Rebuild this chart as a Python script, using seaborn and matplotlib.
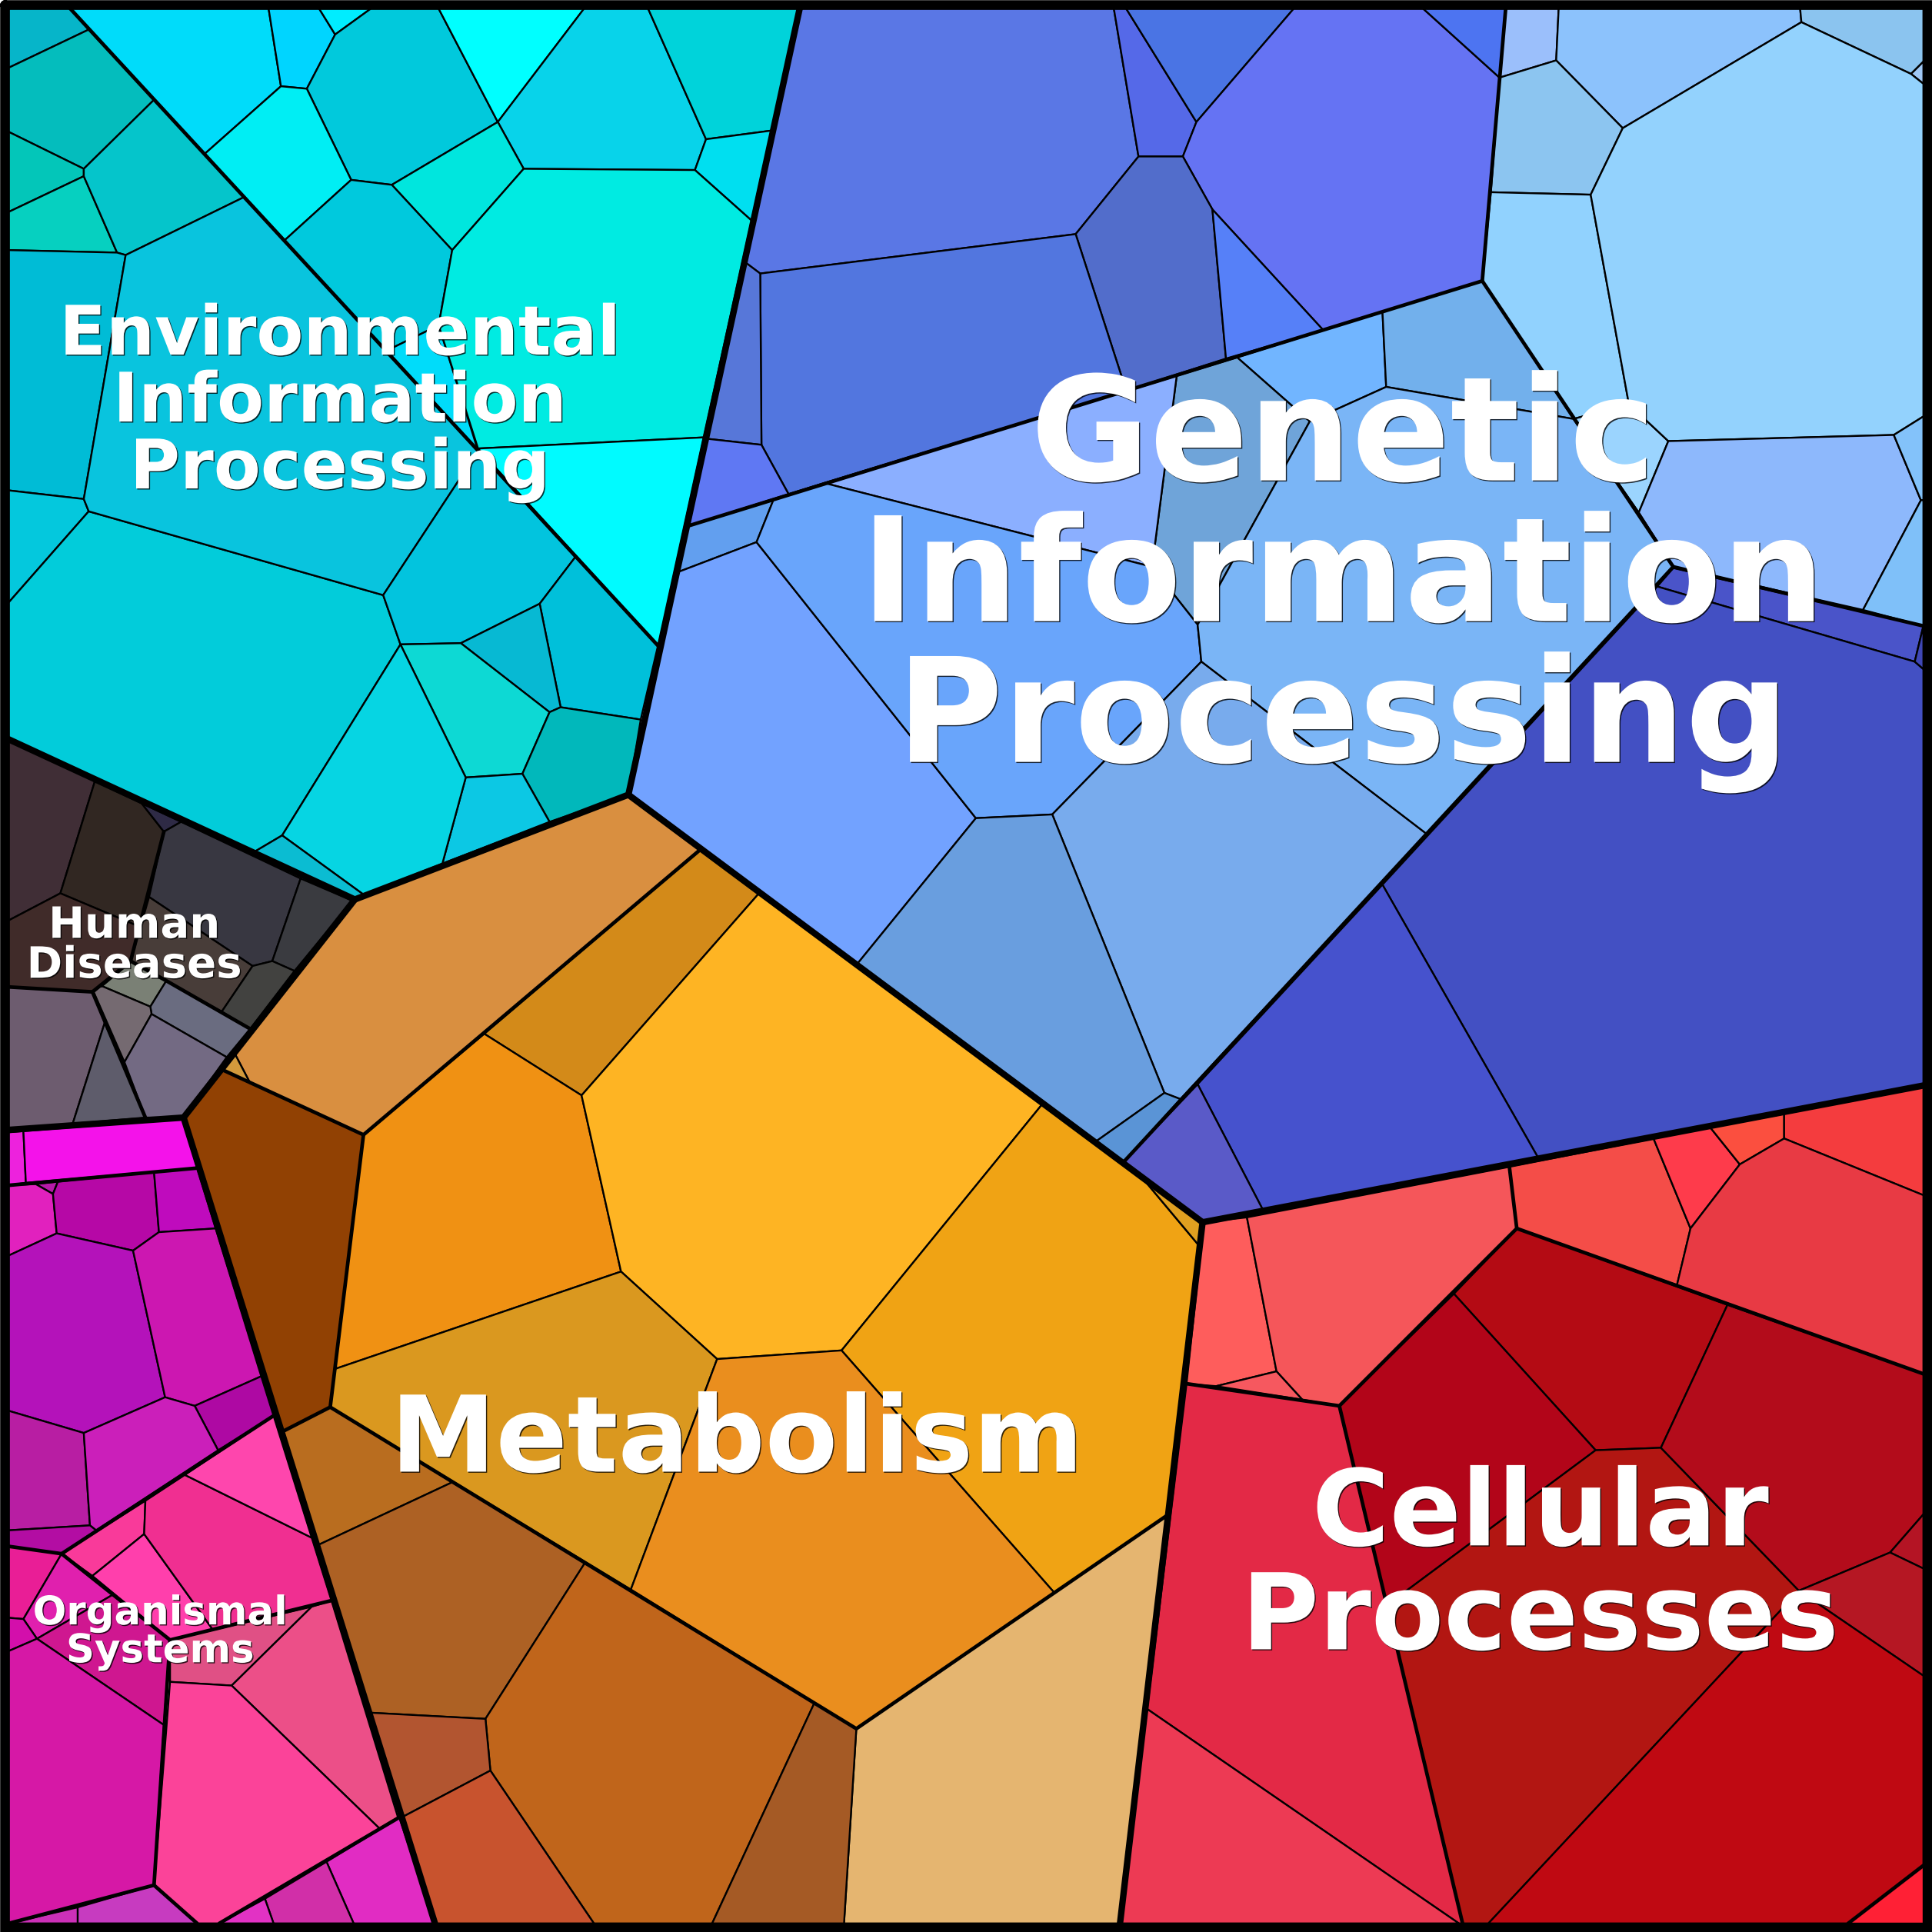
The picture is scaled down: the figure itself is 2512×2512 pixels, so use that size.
"""
Voronoi treemap of KEGG style pathway categories.
Cell outlines were read off the picture, in a 1568 x 1568 pixel space.
"""

import matplotlib
matplotlib.use('Agg')
import matplotlib.pyplot as plt
import matplotlib.patheffects as pe
import numpy as np
import pandas as pd
import seaborn as sns

# Environmental Information Processing
env_cells = [
    [(7, 7), (57, 7), (72, 24), (7, 55)],
    [(7, 55), (72, 24), (125, 81), (68, 137), (7, 107)],
    [(7, 107), (68, 137), (68, 143), (7, 172)],
    [(7, 172), (68, 143), (95, 205), (7, 203)],
    [(68, 137), (125, 81), (198, 160), (102, 207), (95, 205), (68, 143)],
    [(7, 203), (95, 205), (102, 207), (68, 405), (7, 398)],
    [(7, 398), (68, 405), (72, 415), (7, 489)],
    [(7, 489), (72, 415), (311, 483), (325, 523), (229, 678), (207, 691), (7, 600)],
    [(102, 207), (198, 160), (388, 366), (311, 483), (72, 415), (68, 405)],
    [(388, 366), (467, 452), (438, 490), (374, 522), (325, 523), (311, 483)],
    [(467, 452), (534, 524), (520, 584), (455, 574), (438, 490)],
    [(374, 522), (438, 490), (455, 574), (446, 578)],
    [(325, 523), (374, 522), (446, 578), (424, 628), (378, 631)],
    [(446, 578), (455, 574), (520, 584), (510, 645), (446, 667), (424, 628)],
    [(378, 631), (424, 628), (446, 667), (359, 701)],
    [(325, 523), (378, 631), (359, 701), (295, 726), (229, 678)],
    [(207, 691), (229, 678), (295, 726), (288, 730)],
    [(57, 7), (218, 7), (228, 70), (166, 125)],
    [(218, 7), (259, 7), (272, 28), (249, 72), (228, 70)],
    [(259, 7), (301, 7), (272, 28)],
    [(301, 7), (356, 7), (404, 99), (318, 150), (285, 146), (249, 72), (272, 28)],
    [(356, 7), (474, 7), (404, 99)],
    [(474, 7), (526, 7), (573, 113), (564, 138), (425, 137), (404, 99)],
    [(526, 7), (649, 7), (626, 106), (573, 113)],
    [(573, 113), (626, 106), (610, 179), (564, 138)],
    [(166, 125), (228, 70), (249, 72), (285, 146), (231, 195)],
    [(404, 99), (425, 137), (367, 203), (318, 150)],
    [(231, 195), (285, 146), (318, 150), (367, 203), (356, 264), (313, 285)],
    [(313, 285), (356, 264), (388, 366)],
    [(425, 137), (564, 138), (610, 179), (571, 355), (388, 364), (356, 264), (367, 203)],
    [(388, 364), (571, 355), (534, 524)],
]
env_colors = [
    '#06b5c9', '#04bdbd', '#03c6b9', '#06d0c0', '#05c5cb', '#00bcd6', '#04c8dd', '#02ccda',
    '#09c4de', '#02c4de', '#00c0da', '#07b9d3', '#0dd9d4', '#01b8bb', '#0cc8e4', '#06d5e3',
    '#0bbcd2', '#00dcfa', '#00d5ff', '#00edff', '#01c9dc', '#00ffff', '#08d3ea', '#00d3da',
    '#00dff0', '#00eef4', '#00e6de', '#00c9dd', '#00dcfa', '#00ebe2', '#00fbff',
]

# Human Diseases
human_cells = [
    [(7, 600), (77, 634), (49, 725), (7, 747)],
    [(77, 634), (115, 652), (133, 675), (113, 752), (49, 725)],
    [(115, 652), (147, 667), (133, 675)],
    [(7, 747), (49, 725), (113, 752), (106, 780), (75, 805), (7, 801)],
    [(133, 675), (147, 667), (244, 713), (221, 780), (205, 784), (121, 728)],
    [(244, 713), (286, 731), (239, 788), (221, 780)],
    [(121, 728), (205, 784), (180, 821), (135, 796), (106, 780)],
    [(82, 800), (106, 780), (135, 796), (122, 817)],
    [(205, 784), (221, 780), (239, 788), (203, 835), (180, 821)],
    [(135, 796), (203, 835), (184, 858), (123, 823), (122, 817)],
    [(76, 805), (82, 800), (122, 817), (123, 823), (101, 862)],
    [(123, 823), (184, 858), (149, 907), (118, 907), (101, 862)],
    [(7, 801), (75, 805), (85, 830), (59, 912), (7, 917)],
    [(85, 830), (118, 907), (59, 912)],
]
human_colors = [
    '#402e36', '#312722', '#2e2a45', '#402b29', '#383741', '#3a3b40', '#483d39',
    '#7a8075', '#424240', '#6a6c80', '#756a71', '#736a83', '#6d5c6f', '#5e5c6b',
]

# Organismal Systems
org_cells = [
    [(7, 919), (19, 918), (21, 960), (7, 962)],
    [(19, 918), (149, 908), (160, 948), (21, 960)],
    [(29, 961), (47, 959), (43, 969)],
    [(7, 962), (29, 961), (43, 969), (46, 1001), (7, 1019)],
    [(47, 959), (125, 951), (129, 1000), (108, 1015), (46, 1001), (43, 969)],
    [(125, 951), (160, 948), (175, 997), (129, 1000)],
    [(7, 1019), (46, 1001), (108, 1015), (134, 1134), (68, 1163), (7, 1145)],
    [(108, 1015), (129, 1000), (175, 997), (212, 1117), (158, 1141), (134, 1134)],
    [(158, 1141), (212, 1117), (222, 1149), (177, 1177)],
    [(7, 1145), (68, 1163), (73, 1238), (7, 1242)],
    [(68, 1163), (134, 1134), (158, 1141), (177, 1177), (78, 1242), (73, 1238)],
    [(7, 1242), (73, 1238), (78, 1242), (50, 1261), (7, 1255)],
    [(50, 1261), (118, 1218), (117, 1245), (75, 1279)],
    [(117, 1245), (173, 1323), (138, 1331), (75, 1279)],
    [(118, 1218), (150, 1197), (253, 1248), (269, 1299), (173, 1323), (117, 1245)],
    [(150, 1197), (222, 1149), (253, 1248)],
    [(7, 1255), (50, 1261), (19, 1314), (7, 1313)],
    [(50, 1261), (92, 1294), (30, 1330), (19, 1314)],
    [(7, 1313), (19, 1314), (30, 1330), (7, 1340)],
    [(30, 1330), (92, 1294), (138, 1331), (133, 1400)],
    [(7, 1340), (30, 1330), (133, 1400), (125, 1530), (7, 1561)],
    [(138, 1331), (253, 1304), (188, 1368), (138, 1365)],
    [(253, 1304), (269, 1299), (323, 1475), (308, 1484), (188, 1368)],
    [(138, 1365), (188, 1368), (308, 1484), (178, 1561), (160, 1561), (125, 1530)],
    [(63, 1548), (125, 1530), (160, 1561), (63, 1561)],
    [(7, 1561), (63, 1548), (63, 1561)],
    [(265, 1511), (324, 1475), (353, 1561), (287, 1561)],
    [(215, 1541), (265, 1511), (287, 1561), (222, 1561)],
    [(178, 1561), (215, 1541), (222, 1561)],
]
org_colors = [
    '#ed22dd', '#f412ea', '#b61ba8', '#e121be', '#b608a6', '#bf0bbd', '#b412ba', '#cc17b1',
    '#ae09a3', '#b81ea3', '#cb1fba', '#b30da3', '#f93a9a', '#ff3fac', '#f02f91', '#fe46ad',
    '#e91e96', '#e020ae', '#d30fab', '#cf1790', '#d618a6', '#e05085', '#ec4f88', '#fb4399',
    '#c73bc0', '#cc30b8', '#e12cc3', '#d12fa8', '#e232c4',
]

# Metabolism
met_cells = [
    [(180, 868), (295, 921), (268, 1142), (229, 1162), (149, 907)],
    [(288, 730), (510, 645), (569, 689), (295, 921), (203, 879), (191, 856)],
    [(191, 856), (203, 879), (180, 868)],
    [(569, 689), (616, 725), (472, 889), (393, 839)],
    [(295, 921), (393, 839), (472, 889), (504, 1032), (272, 1111)],
    [(616, 725), (846, 896), (683, 1096), (582, 1103), (504, 1032), (472, 889)],
    [(846, 896), (928, 957), (974, 1012), (947, 1230), (856, 1293), (683, 1096)],
    [(928, 957), (976, 992), (974, 1012)],
    [(272, 1111), (504, 1032), (582, 1103), (512, 1290), (268, 1142)],
    [(582, 1103), (683, 1096), (856, 1293), (695, 1403), (512, 1290)],
    [(695, 1403), (947, 1230), (909, 1561), (685, 1561)],
    [(229, 1162), (268, 1142), (367, 1203), (258, 1254)],
    [(258, 1254), (367, 1203), (475, 1268), (394, 1395), (300, 1390)],
    [(475, 1268), (661, 1382), (578, 1561), (482, 1561), (398, 1437), (394, 1395)],
    [(661, 1382), (695, 1403), (685, 1561), (578, 1561)],
    [(300, 1390), (394, 1395), (398, 1437), (326, 1475)],
    [(326, 1475), (398, 1437), (482, 1561), (353, 1561)],
]
met_colors = [
    '#914103', '#d98f40', '#d39a3c', '#d38a19', '#f09113', '#feb423', '#f0a314', '#e0a020',
    '#da981f', '#ea8e1e', '#e5b570', '#b96d1f', '#ad6124', '#c0651b', '#a55a25', '#b25530',
    '#c8532e',
]

# Genetic Information Processing
gen_cells = [
    [(649, 7), (904, 7), (924, 127), (873, 190), (617, 222), (605, 213)],
    [(904, 7), (914, 7), (971, 99), (960, 127), (924, 127)],
    [(914, 7), (1050, 7), (971, 99)],
    [(1050, 7), (1155, 7), (1217, 63), (1203, 228), (1074, 268), (984, 170), (960, 127), (971, 99)],
    [(1155, 7), (1222, 7), (1217, 63)],
    [(873, 190), (924, 127), (960, 127), (984, 170), (995, 291), (914, 317)],
    [(984, 170), (1074, 268), (995, 291)],
    [(617, 222), (873, 190), (914, 317), (640, 401), (618, 361)],
    [(605, 213), (617, 222), (618, 361), (573, 356)],
    [(573, 356), (618, 361), (640, 401), (558, 427)],
    [(1222, 7), (1265, 7), (1263, 49), (1217, 63)],
    [(1265, 7), (1461, 7), (1462, 18), (1317, 104), (1263, 49)],
    [(1461, 7), (1561, 7), (1561, 50), (1551, 60), (1462, 18)],
    [(1561, 50), (1551, 60), (1561, 68)],
    [(1217, 63), (1263, 49), (1317, 104), (1291, 158), (1210, 156)],
    [(1210, 156), (1291, 158), (1322, 328), (1277, 340), (1203, 228)],
    [(1277, 340), (1322, 328), (1354, 358), (1330, 416)],
    [(1291, 158), (1317, 104), (1462, 18), (1551, 60), (1561, 68), (1561, 338), (1537, 353), (1354, 358), (1322, 328)],
    [(1354, 358), (1537, 353), (1559, 406), (1512, 495), (1358, 460), (1330, 416)],
    [(1537, 353), (1561, 338), (1561, 406), (1559, 406)],
    [(1559, 406), (1561, 406), (1561, 508), (1512, 495)],
    [(1004, 290), (1122, 253), (1125, 314), (1063, 342)],
    [(1122, 253), (1203, 228), (1277, 340), (1125, 314)],
    [(955, 305), (1004, 290), (1063, 342), (972, 507), (935, 460)],
    [(669, 392), (955, 305), (935, 460)],
    [(558, 427), (628, 405), (614, 440), (551, 464)],
    [(551, 464), (614, 440), (792, 664), (696, 782), (510, 645)],
    [(628, 405), (669, 392), (935, 460), (972, 507), (975, 537), (854, 661), (792, 664), (614, 440)],
    [(1063, 342), (1125, 314), (1277, 340), (1330, 416), (1358, 460), (1158, 677), (975, 537), (972, 507)],
    [(975, 537), (1158, 677), (958, 892), (945, 887), (854, 661)],
    [(792, 664), (854, 661), (945, 887), (890, 926), (696, 782)],
    [(890, 926), (945, 887), (958, 892), (912, 943)],
    [(1358, 461), (1561, 508), (1554, 537), (1345, 476)],
    [(1345, 476), (1554, 537), (1561, 543), (1561, 881), (1248, 939), (1122, 718)],
    [(1561, 508), (1561, 543), (1554, 537)],
    [(1122, 718), (1248, 939), (1025, 982), (972, 880)],
    [(972, 880), (1025, 982), (976, 992), (912, 943)],
]
gen_colors = [
    '#5a77e5', '#5569e8', '#4a74e4', '#6573f3', '#4d74f1', '#526dcb', '#5680f8', '#5276df',
    '#5777d9', '#5f78f3', '#9bbffb', '#8cc2fc', '#8bc4ef', '#a0c8f5', '#8cc5f0', '#91d2fe',
    '#9bd4fe', '#93d2fd', '#8db8fc', '#83c2fa', '#7fc0f9', '#71b5ff', '#72b0ec', '#6fa4d9',
    '#8bafff', '#629fef', '#72a2ff', '#69a5fb', '#7ab5f6', '#78abed', '#699edf', '#5a94d6',
    '#4a54c9', '#4350c3', '#3f47b5', '#4652cd', '#5a5ac8',
]

# Cellular Processes
cell_cells = [
    [(977, 992), (1012, 988), (1036, 1113), (987, 1125), (963, 1123)],
    [(1012, 988), (1225, 947), (1231, 997), (1087, 1141), (1057, 1136), (1036, 1113)],
    [(987, 1125), (1036, 1113), (1057, 1136)],
    [(1225, 947), (1342, 924), (1372, 997), (1361, 1043), (1231, 997)],
    [(1342, 924), (1388, 915), (1412, 945), (1372, 997)],
    [(1388, 915), (1448, 904), (1448, 924), (1412, 945)],
    [(1448, 904), (1561, 881), (1561, 970), (1448, 924)],
    [(1412, 945), (1448, 924), (1561, 970), (1561, 1115), (1361, 1043), (1372, 997)],
    [(1231, 997), (1402, 1059), (1348, 1175), (1295, 1177), (1180, 1050)],
    [(1087, 1141), (1180, 1050), (1295, 1177), (1124, 1304)],
    [(1295, 1177), (1348, 1175), (1460, 1291), (1208, 1561), (1187, 1561), (1124, 1304)],
    [(1402, 1059), (1561, 1115), (1561, 1229), (1534, 1260), (1460, 1291), (1348, 1175)],
    [(1561, 1229), (1561, 1273), (1534, 1260)],
    [(1534, 1260), (1561, 1273), (1561, 1360), (1460, 1291)],
    [(1460, 1291), (1561, 1360), (1561, 1514), (1500, 1561), (1208, 1561)],
    [(1561, 1514), (1561, 1561), (1500, 1561)],
    [(963, 1123), (1087, 1141), (1187, 1561), (1184, 1561), (931, 1387)],
    [(931, 1387), (1184, 1561), (909, 1561)],
]
cell_colors = [
    '#fe5d5c', '#f5565a', '#f6585f', '#f44d48', '#fe3b4b', '#fb4f3f', '#f43c3e', '#e83a44',
    '#b40b14', '#b20519', '#b21612', '#b30c1b', '#b41424', '#b51723', '#bf0912', '#ff2035',
    '#e32946', '#ed3a54',
]

# second level borders inside the categories
mid_borders = [
    [(57, 7), (534, 524)],
    [(133, 675), (106, 780), (75, 805), (118, 907)],
    [(7, 801), (75, 805)],
    [(82, 800), (106, 780), (135, 796), (203, 835)],
    [(7, 962), (160, 948)],
    [(222, 1149), (50, 1261), (138, 1331), (269, 1299)],
    [(7, 1255), (50, 1261)],
    [(138, 1331), (125, 1530), (7, 1561)],
    [(125, 1530), (160, 1561)],
    [(178, 1561), (324, 1475)],
    [(180, 868), (295, 921), (268, 1142), (229, 1162)],
    [(295, 921), (569, 689)],
    [(268, 1142), (695, 1403), (947, 1230)],
    [(1222, 7), (1203, 228), (558, 427)],
    [(1203, 228), (1358, 460), (912, 943)],
    [(1358, 460), (1561, 508)],
    [(963, 1123), (1087, 1141), (1231, 997), (1225, 947)],
    [(1231, 997), (1561, 1115)],
    [(1087, 1141), (1187, 1561)],
    [(1500, 1561), (1561, 1514)],
]

# first level borders between the categories
top_borders = [
    [(649, 7), (510, 645), (288, 730), (7, 600)],
    [(288, 730), (149, 907), (7, 917)],
    [(149, 907), (353, 1561)],
    [(510, 645), (976, 992), (909, 1561)],
    [(976, 992), (1561, 881)],
]

label_texts = ['Environmental\nInformation\nProcessing', 'Genetic\nInformation\nProcessing',
               'Metabolism', 'Cellular\nProcesses', 'Human\nDiseases', 'Organismal\nSystems']
label_x = [276, 1090, 598, 1250, 109, 130]
label_y = [327, 472, 1171, 1273, 768, 1325]
label_sizes = [64, 136, 99, 99, 40.4, 37]
label_spacing = [1.0, 1.0, 1.0, 1.02, 0.95, 0.98]


def draw_borders(ax, borders, width):
    for border in borders:
        line = pd.DataFrame(border, columns=['x', 'y'])
        sns.lineplot(data=line, x='x', y='y', ax=ax, sort=False, estimator=None,
                     color='black', linewidth=width, solid_capstyle='round',
                     solid_joinstyle='round', zorder=3)


sns.set_theme(style='white')
plt.rcParams['font.family'] = ['DejaVu Sans']

fig = plt.figure(figsize=(25.12, 25.12), dpi=100)
ax = fig.add_axes([0, 0, 1, 1])

all_cells = env_cells + human_cells + org_cells + met_cells + gen_cells + cell_cells
all_colors = env_colors + human_colors + org_colors + met_colors + gen_colors + cell_colors

for cell, color in zip(all_cells, all_colors):
    pts = np.array(cell)
    ax.fill(pts[:, 0], pts[:, 1], facecolor=color, edgecolor='black', linewidth=1.7,
            joinstyle='round', zorder=2)

draw_borders(ax, mid_borders, 3.4)
draw_borders(ax, top_borders, 6.0)

ax.set_xlim(0, 1568)
ax.set_ylim(1568, 0)
ax.set_xlabel('')
ax.set_ylabel('')
ax.set_xticks([])
ax.set_yticks([])
sns.despine(ax=ax, left=True, bottom=True, top=True, right=True)

# frame round the whole picture
ax.plot([4, 1564, 1564, 4, 4], [4, 4, 1564, 1564, 4],
        color='black', linewidth=9, zorder=4, solid_joinstyle='miter')

for text, x, y, size, spacing in zip(label_texts, label_x, label_y, label_sizes, label_spacing):
    ax.text(x, y, text, color='white', fontsize=size, fontweight='bold', ha='center',
            va='center', multialignment='center', linespacing=spacing, zorder=5,
            path_effects=[pe.withSimplePatchShadow(offset=(1, -1), shadow_rgbFace='black', alpha=0.8)])

fig.savefig('out.png', dpi=100)
